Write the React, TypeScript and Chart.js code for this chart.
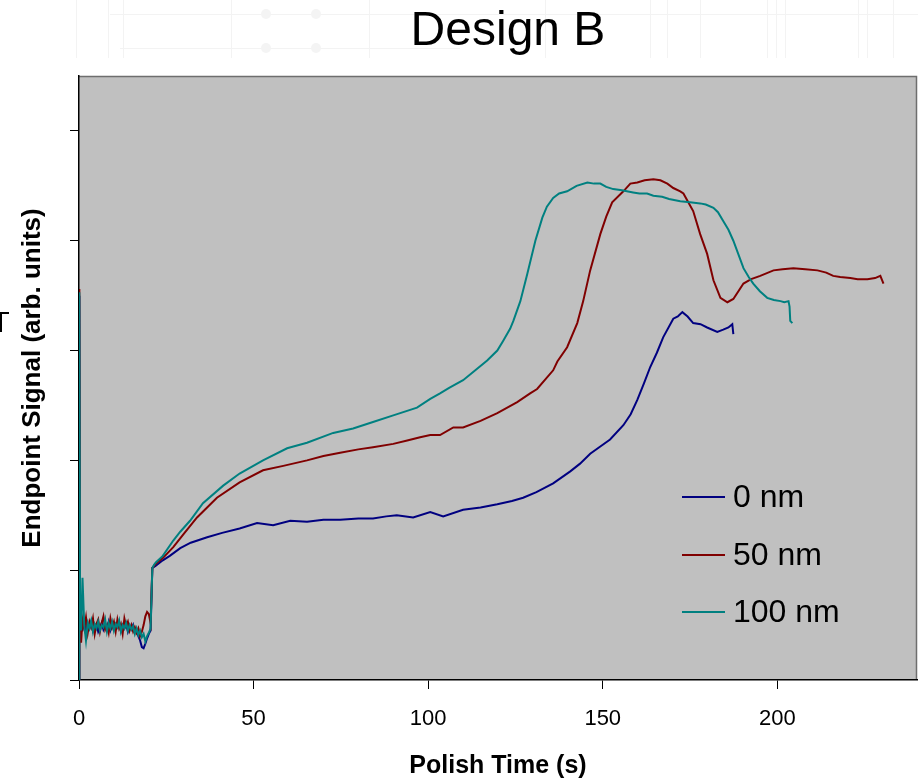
import React, { useEffect, useRef } from 'react';
import { Chart, registerables } from 'chart.js';

Chart.register(...registerables);

const FONT = '"Liberation Sans", Arial, Helvetica, sans-serif';

const chartTitle = 'Design B';
const xAxisTitle = 'Polish Time (s)';
const yAxisTitle = 'Endpoint Signal (arb. units)';

const seriesLabels = ['0 nm', '50 nm', '100 nm'];
const seriesColors = ['#000080', '#800000', '#008080'];

const xTickValues = [0, 50, 100, 150, 200];
const yTickValues = [0, 1, 2, 3, 4, 5];

// start-up segment (0 – 20.5 s), shared time stamps
const baselineTimes = [
  0, 0.1, 0.3, 0.6,
  1, 1.5, 2, 2.5, 3, 3.5, 4, 4.5, 5, 5.5,
  6, 6.5, 7, 7.5, 8, 8.5, 9, 9.5, 10, 10.5,
  11, 11.5, 12, 12.5, 13, 13.5, 14, 14.5, 15, 15.5,
  16, 16.5, 17, 17.5, 18, 18.5, 19, 19.5, 20, 20.5,
];

const blueBaseline = [
  0.0, 3.5, 0.55, 0.48,
  0.46, 0.52, 0.44, 0.5, 0.47, 0.53, 0.45, 0.49, 0.51, 0.44,
  0.48, 0.52, 0.46, 0.5, 0.47, 0.53, 0.45, 0.49, 0.51, 0.46,
  0.48, 0.52, 0.45, 0.5, 0.47, 0.51, 0.44, 0.49, 0.46, 0.5,
  0.43, 0.45, 0.4, 0.36, 0.3, 0.29, 0.33, 0.38, 0.42, 0.45,
];
const redBaseline = [
  0.0, 3.56, 0.6, 0.34,
  0.55, 0.47, 0.57, 0.43, 0.53, 0.48, 0.56, 0.42, 0.51, 0.55,
  0.44, 0.52, 0.58, 0.46, 0.5, 0.43, 0.56, 0.48, 0.53, 0.44,
  0.55, 0.47, 0.51, 0.42, 0.56, 0.49, 0.53, 0.45, 0.5, 0.44,
  0.48, 0.43, 0.47, 0.4, 0.44, 0.5, 0.58, 0.62, 0.6, 0.52,
];
const cyanBaseline = [
  0.0, 3.53, 0.7, 0.45,
  0.93, 0.5, 0.36, 0.52, 0.47, 0.54, 0.44, 0.51, 0.47, 0.53,
  0.45, 0.5, 0.48, 0.55, 0.44, 0.52, 0.47, 0.53, 0.45, 0.51,
  0.48, 0.54, 0.44, 0.5, 0.47, 0.52, 0.45, 0.5, 0.46, 0.49,
  0.42, 0.47, 0.41, 0.45, 0.39, 0.42, 0.35, 0.4, 0.43, 0.47,
];

// 0 nm
const blueTimes = [
  21, 21.5, 22, 24, 26, 29, 32, 36.7, 41, 46,
  51, 55.6, 60.5, 65.3, 70, 74.8, 80, 84.2, 88, 91,
  95.7, 100.6, 104.3, 110, 115, 119.8, 124, 127.2, 131, 135.8,
  140.7, 143.5, 146.4, 149, 152.1, 155.9, 158, 159.9, 161.8, 163.6,
  165.5, 167.3, 170.2, 171.5, 172.8, 174.3, 175.9, 178, 179.9, 182.8,
  184.5, 186, 187.1, 187.4,
];
const blueValues = [
  1.02, 1.03, 1.04, 1.09, 1.13, 1.2, 1.25, 1.3, 1.34, 1.38,
  1.43, 1.41, 1.45, 1.44, 1.46, 1.46, 1.47, 1.47, 1.49, 1.5,
  1.48, 1.53, 1.49, 1.55, 1.57, 1.6, 1.63, 1.66, 1.71, 1.79,
  1.9, 1.97, 2.06, 2.12, 2.19, 2.32, 2.42, 2.55, 2.7, 2.85,
  2.98, 3.12, 3.29, 3.31, 3.35, 3.31, 3.25, 3.24, 3.21, 3.17,
  3.19, 3.21, 3.24, 3.15,
];

// 50 nm
const redTimes = [
  21, 21.5, 22, 24, 27, 30, 33.8, 39.5, 46, 52.7,
  58.5, 65.3, 70, 74.8, 80, 84.2, 90, 94, 97.7, 100.6,
  103.4, 107.2, 110, 115, 119.8, 125.5, 129.2, 131.2, 135.8, 137,
  139.8, 142.7, 144.4, 146.4, 149.3, 151, 152.7, 155.9, 157.9, 159.9,
  162, 164.5, 166.5, 168.5, 170.2, 172.2, 173.1, 175.9, 177.9, 179.9,
  181.7, 183.7, 185.7, 187.4, 190.3, 192.5, 195.1, 198.9, 201.5, 204.6,
  208, 211.5, 214, 216, 218, 220.9, 223, 225.8, 228, 229.5,
  230.4,
];
const redValues = [
  1.02, 1.04, 1.06, 1.11, 1.21, 1.33, 1.48, 1.66, 1.8, 1.91,
  1.95, 2.0, 2.04, 2.07, 2.1, 2.12, 2.15, 2.18, 2.21, 2.23,
  2.23, 2.3, 2.3, 2.36, 2.43, 2.53, 2.61, 2.65, 2.82, 2.9,
  3.03, 3.25, 3.45, 3.73, 4.06, 4.22, 4.35, 4.45, 4.52, 4.53,
  4.55, 4.56, 4.55, 4.52, 4.48, 4.45, 4.43, 4.27, 4.06, 3.88,
  3.64, 3.48, 3.44, 3.47, 3.61, 3.65, 3.68, 3.73, 3.74, 3.75,
  3.74, 3.73, 3.71, 3.68, 3.67, 3.66, 3.65, 3.65, 3.66, 3.68,
  3.61,
];

// 100 nm
const cyanTimes = [
  21, 21.5, 22, 24, 27, 29, 31.8, 35.5, 41.3, 46,
  52.7, 59.6, 65.3, 72.8, 78.5, 84.2, 90, 96.8, 100.6, 103.4,
  106, 110, 113.5, 116.9, 119.8, 121.5, 123.5, 124.4, 126.4, 128.4,
  130.7, 132.7, 134, 135.8, 137.5, 139.8, 142.5, 145.6, 147.5, 149.3,
  151, 153, 155.5, 158.7, 160.5, 162.7, 164.5, 167, 169, 172.2,
  175, 177.9, 179.5, 181.7, 183, 184.5, 186, 187.4, 188.8, 190.3,
  191.8, 193.1, 195, 197.1, 199, 200.9, 202, 203.2, 203.5, 203.7,
  204.3,
];
const cyanValues = [
  1.02, 1.05, 1.07, 1.13, 1.27, 1.35, 1.45, 1.61, 1.77, 1.88,
  2.0, 2.11, 2.16, 2.25, 2.29, 2.35, 2.41, 2.48, 2.56, 2.61,
  2.66, 2.73, 2.82, 2.91, 3.0, 3.09, 3.2, 3.27, 3.45, 3.7,
  4.0, 4.21, 4.31, 4.39, 4.43, 4.45, 4.5, 4.53, 4.52, 4.52,
  4.49, 4.47, 4.46, 4.44, 4.43, 4.43, 4.41, 4.4, 4.38, 4.36,
  4.35, 4.34, 4.33, 4.3, 4.26, 4.18, 4.1, 4.0, 3.88, 3.75,
  3.67, 3.61, 3.54, 3.48, 3.46, 3.45, 3.44, 3.45, 3.4, 3.27,
  3.25,
];

function buildPoints(base: number[], times: number[], values: number[]) {
  const t = baselineTimes.concat(times);
  const v = base.concat(values);
  return t.map((x, i) => ({ x, y: v[i] }));
}

const backgroundPlugin = {
  id: 'designBackground',
  beforeDraw(chart: any) {
    const { ctx, chartArea } = chart;
    ctx.save();
    // faint decorative pattern at top of slide
    ctx.strokeStyle = '#f3f3f3';
    ctx.lineWidth = 1;
    const vlines = [76, 108, 123, 231, 369, 545, 650, 667, 700, 767, 776, 785, 858, 867, 893];
    vlines.forEach((x) => {
      ctx.beginPath();
      ctx.moveTo(x + 0.5, 0);
      ctx.lineTo(x + 0.5, 58);
      ctx.stroke();
    });
    ctx.beginPath();
    ctx.moveTo(110, 14.5);
    ctx.lineTo(918, 14.5);
    ctx.moveTo(120, 48.5);
    ctx.lineTo(460, 48.5);
    ctx.stroke();
    [[266, 14], [316, 14], [266, 48], [316, 48]].forEach(([cx, cy]) => {
      ctx.beginPath();
      ctx.arc(cx, cy, 5, 0, Math.PI * 2);
      ctx.fillStyle = '#f4f4f4';
      ctx.fill();
    });
    // plot area
    ctx.fillStyle = '#c0c0c0';
    ctx.fillRect(chartArea.left, chartArea.top, chartArea.right - chartArea.left, chartArea.bottom - chartArea.top);
    ctx.strokeStyle = '#6e6e6e';
    ctx.lineWidth = 1.5;
    ctx.beginPath();
    ctx.moveTo(chartArea.left, chartArea.top + 0.5);
    ctx.lineTo(chartArea.right - 0.5, chartArea.top + 0.5);
    ctx.lineTo(chartArea.right - 0.5, chartArea.bottom);
    ctx.stroke();
    ctx.restore();
  },
  afterDraw(chart: any) {
    const { ctx, chartArea } = chart;
    ctx.save();
    // title
    ctx.fillStyle = '#000';
    ctx.font = `48px ${FONT}`;
    ctx.textAlign = 'center';
    ctx.textBaseline = 'alphabetic';
    ctx.fillText(chartTitle, chartArea.left + 429, 45);
    // legend
    ctx.font = `32px ${FONT}`;
    ctx.textAlign = 'left';
    ctx.textBaseline = 'middle';
    const legendY = [497, 555, 612];
    seriesLabels.forEach((label, i) => {
      const y = legendY[i];
      ctx.strokeStyle = seriesColors[i];
      ctx.lineWidth = 2;
      ctx.beginPath();
      ctx.moveTo(chartArea.left + 603, y);
      ctx.lineTo(chartArea.left + 646, y);
      ctx.stroke();
      ctx.fillStyle = '#000';
      ctx.fillText(label, chartArea.left + 654, y + 1);
    });
    // small stray mark at left edge
    ctx.strokeStyle = '#000';
    ctx.lineWidth = 2;
    ctx.beginPath();
    ctx.moveTo(0, 313);
    ctx.lineTo(9, 313);
    ctx.moveTo(1, 313);
    ctx.lineTo(1, 332);
    ctx.stroke();
    ctx.restore();
  },
};

export default function App() {
  const ref = useRef<HTMLCanvasElement>(null);

  useEffect(() => {
    const canvas = ref.current;
    if (!canvas) return;
    const bases = [blueBaseline, redBaseline, cyanBaseline];
    const times = [blueTimes, redTimes, cyanTimes];
    const values = [blueValues, redValues, cyanValues];
    const orders = [2, 1, 0];

    const chart = new Chart(canvas, {
      type: 'line',
      data: {
        datasets: seriesLabels.map((label, i) => ({
          label,
          data: buildPoints(bases[i], times[i], values[i]),
          borderColor: seriesColors[i],
          backgroundColor: seriesColors[i],
          borderWidth: 2,
          pointRadius: 0,
          tension: 0,
          fill: false,
          order: orders[i],
        })),
      },
      options: {
        responsive: false,
        animation: false,
        devicePixelRatio: 1,
        parsing: false as any,
        normalized: true,
        layout: { padding: { top: 76, right: 1, left: 0, bottom: 0 } },
        plugins: {
          legend: { display: false },
          title: { display: false },
          tooltip: { enabled: false },
        },
        scales: {
          x: {
            type: 'linear',
            min: 0,
            max: 240,
            afterBuildTicks: (s: any) => {
              s.ticks = xTickValues.map((v) => ({ value: v }));
            },
            afterFit: (s: any) => {
              s.height = 99;
            },
            ticks: {
              color: '#000',
              font: { family: FONT, size: 22 },
              padding: 17,
              maxRotation: 0,
              autoSkip: false,
            },
            grid: {
              display: true,
              drawOnChartArea: false,
              drawTicks: true,
              tickLength: 9,
              tickColor: '#000',
              lineWidth: 1,
            },
            border: { display: true, color: '#000', width: 1.5 },
            title: {
              display: true,
              text: xAxisTitle,
              color: '#000',
              font: { family: FONT, size: 25, weight: 'bold' },
              padding: { top: 0, bottom: -2 },
            },
          },
          y: {
            type: 'linear',
            min: 0,
            max: 5.5,
            afterBuildTicks: (s: any) => {
              s.ticks = yTickValues.map((v) => ({ value: v }));
            },
            afterFit: (s: any) => {
              s.width = 79;
            },
            ticks: { display: false },
            grid: {
              display: true,
              drawOnChartArea: false,
              drawTicks: true,
              tickLength: 9,
              tickColor: '#000',
              lineWidth: 1,
            },
            border: { display: true, color: '#000', width: 1.5 },
            title: {
              display: true,
              text: yAxisTitle,
              color: '#000',
              font: { family: FONT, size: 26, weight: 'bold' },
              padding: { top: 17, bottom: 0 },
            },
          },
        },
      } as any,
      plugins: [backgroundPlugin],
    });
    return () => chart.destroy();
  }, []);

  return (
    <div style={{ position: 'absolute', left: 0, top: 0, width: 918, height: 779, background: '#fff' }}>
      <canvas ref={ref} width={918} height={779} style={{ display: 'block', width: 918, height: 779 }} />
    </div>
  );
}
